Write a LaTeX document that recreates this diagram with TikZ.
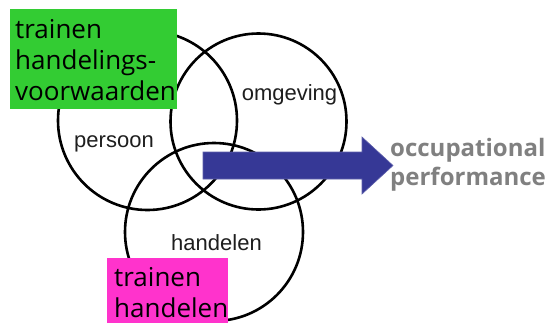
\documentclass[tikz,border=0pt]{standalone}
\usepackage{fontspec}
\setmainfont{Liberation Sans}
\newfontfamily\comicfont{Open Sans}
\definecolor{boxgreen}{RGB}{51,204,51}
\definecolor{boxpink}{RGB}{255,51,204}
\definecolor{arrowblue}{RGB}{54,56,150}
\definecolor{perfgray}{RGB}{128,128,128}
\definecolor{labelgray}{RGB}{30,30,30}
\begin{document}
\begin{tikzpicture}[x=1pt,y=-1pt,
  venn/.style={draw=black,line width=2.6pt},
  venntext/.style={font=\fontsize{22}{24}\selectfont,text=labelgray,anchor=base,inner sep=0pt},
  boxtext/.style={font=\comicfont\fontsize{26}{31}\selectfont,text=black,align=left,anchor=base west,inner sep=0pt},
  perftext/.style={font=\comicfont\bfseries\fontsize{24}{29}\selectfont,text=perfgray,align=left,anchor=base west,inner sep=0pt}]
\useasboundingbox (0,0) rectangle (556,322);
\fill[white] (0,0) rectangle (556,322);
% circles
\draw[venn] (147.5,120.5) circle (89.5);
\draw[venn] (258.5,121.5) circle (88);
\draw[venn] (214,232) circle (89);
% labels
\node[venntext] (persoon) at (114,147) {persoon};
\node[venntext] (omgeving) at (289.5,100) {omgeving};
\node[venntext] (handelen) at (216.5,250) {handelen};
% arrow
\fill[arrowblue,draw=arrowblue!80!white,line width=0.6pt]
  (203,152) -- (362,152) -- (362,137) -- (393,165.5) -- (362,194) -- (362,179) -- (203,179) -- cycle;
% green box
\node[fill=boxgreen,minimum width=167pt,minimum height=100pt,anchor=north west,inner sep=0pt] (greenbox) at (10,9) {};
\node[boxtext] (greentext) at (15,100) {trainen\\handelings-\\voorwaarden};
% pink box
\node[fill=boxpink,minimum width=121pt,minimum height=66pt,anchor=north west,inner sep=0pt] (pinkbox) at (107,258) {};
\node[boxtext] (pinktext) at (114,317) {trainen\\handelen};
% occupational performance
\node[perftext] (perf) at (390,185) {occupational\\performance};
\end{tikzpicture}
\end{document}
